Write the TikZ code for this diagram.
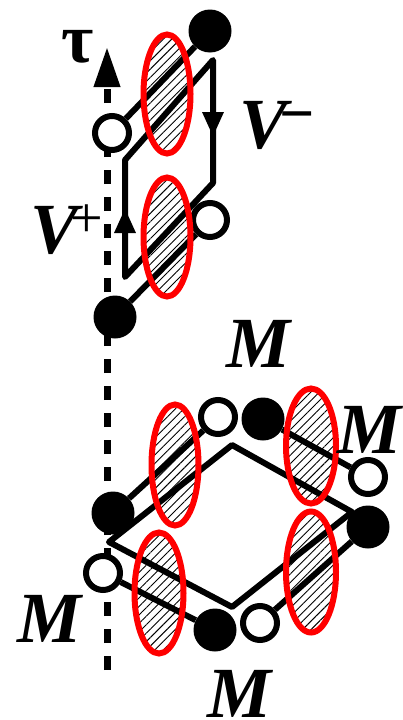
\documentclass[tikz,border=0pt]{standalone}
\usepackage{fontspec}
\setmainfont{Liberation Serif}
\usetikzlibrary{arrows.meta,patterns.meta,shapes.geometric}

\tikzset{
  bond/.style={line width=6pt, line cap=butt},
  loopline/.style={line width=6pt, line join=round, line cap=round},
  looparrow/.style={line width=6pt, -{Triangle[length=25pt,width=20pt]}},
  axis/.style={line width=7pt, dash pattern=on 14pt off 13pt,
    -{Triangle[length=40pt,width=25pt]}},
  fullsite/.style={circle, fill=black, inner sep=0pt, minimum size=43pt},
  emptysite/.style={circle, draw=black, fill=white, line width=6pt,
    inner sep=0pt, minimum size=34pt},
  pair/.style={ellipse, draw=red, line width=6pt, inner sep=0pt,
    pattern={Lines[angle=45,distance=6pt,line width=0.9pt]}},
  bigletter/.style={inner sep=0pt, anchor=base,
    font=\fontsize{72}{72}\selectfont\bfseries\itshape},
  plussign/.style={inner sep=0pt, anchor=base,
    font=\fontsize{58}{58}\selectfont},
  minussign/.style={inner sep=0pt, anchor=base,
    font=\fontsize{62}{62}\selectfont\bfseries},
  taulabel/.style={inner sep=0pt, anchor=base,
    font=\fontsize{70}{70}\selectfont\bfseries},
}

\begin{document}
\begin{tikzpicture}[x=1pt, y=-1pt]
  \useasboundingbox (0,0) rectangle (403,720);

  % imaginary-time axis
  \coordinate (axbot) at (107,670);
  \coordinate (axtop) at (107,47);
  \draw[axis] (axbot) -- (axtop);

  % upper plaquette: loop corners and arrow tips
  \coordinate (l1) at (125,160);
  \coordinate (l2) at (213,60);
  \coordinate (l3) at (213,183);
  \coordinate (l4) at (125,277);
  \coordinate (tipdown) at (213,137);
  \coordinate (tipup) at (125,208);
  \draw[loopline] (l1) -- (l2) -- (l3) -- (l4) -- cycle;
  \draw[looparrow] (l2) -- (tipdown);
  \draw[looparrow] (l4) -- (tipup);

  % upper sites
  \node[fullsite]  (ua) at (210,31) {};
  \node[emptysite] (ub) at (112,133) {};
  \node[emptysite] (uc) at (210,220) {};
  \node[fullsite]  (ud) at (115,317) {};

  % lower plaquette: diamond loop
  \coordinate (dl) at (109,542);
  \coordinate (dt) at (232,445);
  \coordinate (dr) at (352,512);
  \coordinate (db) at (232,607);
  \draw[loopline] (dl) -- (dt) -- (dr) -- (db) -- cycle;

  % lower sites
  \node[fullsite]  (la) at (113,513) {};
  \node[emptysite] (lb) at (218,417) {};
  \node[fullsite]  (lc) at (263,419) {};
  \node[emptysite] (ld) at (368,477) {};
  \node[fullsite]  (le) at (368,527) {};
  \node[emptysite] (lf) at (260,623) {};
  \node[fullsite]  (lg) at (215,630) {};
  \node[emptysite] (lh) at (103,573) {};

  % bonds between sites
  \draw[bond] (ub) -- (ua);
  \draw[bond] (ud) -- (uc);
  \draw[bond] (la) -- (lb);
  \draw[bond] (lc) -- (ld);
  \draw[bond] (le) -- (lf);
  \draw[bond] (lh) -- (lg);

  % hatched pairs
  \node[pair, minimum width=47pt, minimum height=119pt] (e1) at (167,94) {};
  \node[pair, minimum width=47pt, minimum height=119pt] (e2) at (167,237) {};
  \node[pair, minimum width=47pt, minimum height=121pt] (e3) at (175,465) {};
  \node[pair, minimum width=50pt, minimum height=115pt] (e4) at (311,446) {};
  \node[pair, minimum width=49pt, minimum height=121pt] (e5) at (159,593) {};
  \node[pair, minimum width=50pt, minimum height=121pt] (e6) at (311,572) {};

  % labels
  \node[taulabel] (tau) at (78,62) {τ};
  \node[bigletter] (vp) at (55,253) {V};
  \node[plussign] (vps) at (87,237) {+};
  \node[bigletter] (vm) at (264,148) {V};
  \node[minussign] (vms) at (297,134) {−};
  \node[bigletter] (m1) at (259,367) {M};
  \node[bigletter] (m2) at (370,453) {M};
  \node[bigletter] (m3) at (50,642) {M};
  \node[bigletter] (m4) at (240,717) {M};
\end{tikzpicture}
\end{document}
